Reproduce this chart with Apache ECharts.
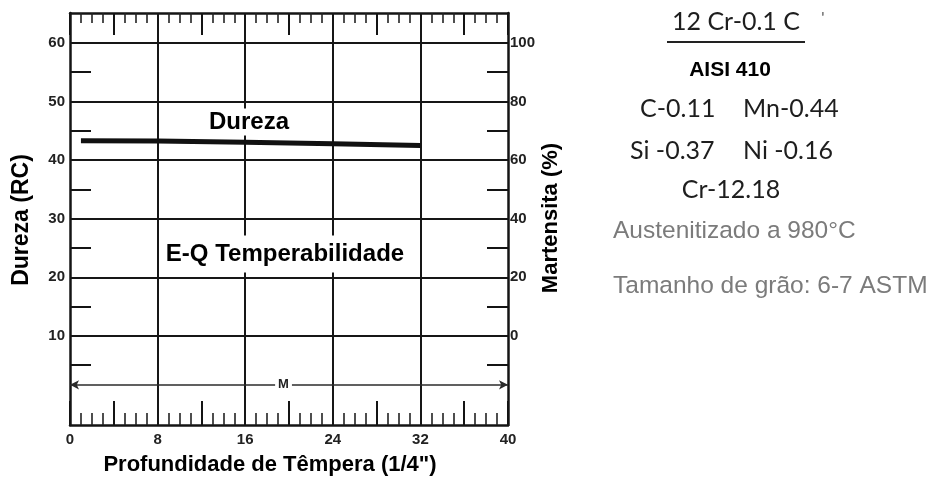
<!DOCTYPE html>
<html>
<head>
<meta charset="utf-8">
<script src="https://cdn.jsdelivr.net/npm/echarts@6/dist/echarts.min.js"></script>
<style>
  html, body { margin: 0; padding: 0; background: #fff; }
  #chart { width: 940px; height: 479px; }
</style>
</head>
<body>
<div id="chart"></div>
<script>
// Jominy curve: hardness (RC) against quench depth (1/4")
const depth = [1, 8, 16, 24, 32];
const hardness = [43.3, 43.25, 43.05, 42.8, 42.5];

// axis ticks and labels
const depthLabels = [0, 8, 16, 24, 32, 40];
const depthGrid = [8, 16, 24, 32];
const hardnessLabels = [10, 20, 30, 40, 50, 60];
const hardnessMinor = [5, 15, 25, 35, 45, 55];
const martensiteLabels = [0, 20, 40, 60, 80, 100];
const martensiteMinor = [-10, 10, 30, 50, 70, 90];

// the "M" reference line near the bottom of the chart
const mLevel = 1.65;
const mLabelAt = 19.5;

// steel description beside the chart
const steelTitle = '12 Cr-0.1 C';
const steelGrade = 'AISI 410';
const compositionRow1 = ['C-0.11', 'Mn-0.44'];
const compositionRow2 = ['Si -0.37', 'Ni -0.16'];
const compositionRow3 = 'Cr-12.18';
const treatment = 'Austenitizado a 980°C';
const grainSize = 'Tamanho de grão: 6-7 ASTM';

const INK = '#141414';
const tickLabel = { fontFamily: 'Liberation Sans', fontWeight: 'bold', fontSize: 15, color: '#222' };
const titleFont = { fontFamily: 'Liberation Sans', fontWeight: 'bold', fontSize: 22, fill: '#000' };
const steelFont = { fontFamily: 'Lato', fontSize: 25, fill: '#1e1e1e' };
const grayFont = { fontFamily: 'Liberation Sans', fontSize: 24.5, fill: '#7b7b7b' };

const chart = echarts.init(document.getElementById('chart'), null, { renderer: 'canvas' });

const depthAxisBase = {
  type: 'value', min: 0, max: 40, interval: 4,
  axisLine: { show: true, onZero: false, lineStyle: { color: INK, width: 2.5 } },
  splitLine: { show: false },
  minorTick: { show: true, splitNumber: 4, lineStyle: { color: '#222', width: 1.6 } },
  axisTick: { show: true, inside: true, lineStyle: { color: INK, width: 2 } }
};

chart.setOption({
  animation: false,
  backgroundColor: '#fff',
  grid: { left: 70, right: 432, top: 13, bottom: 54, containLabel: false },
  xAxis: [
    Object.assign({}, depthAxisBase, {
      position: 'bottom',
      axisTick: Object.assign({}, depthAxisBase.axisTick, { length: 24 }),
      minorTick: Object.assign({}, depthAxisBase.minorTick, { length: 12 }),
      axisLabel: Object.assign({}, tickLabel, {
        margin: 7, showMinLabel: true, showMaxLabel: true,
        formatter: v => (depthLabels.indexOf(v) >= 0 ? String(v) : '')
      })
    }),
    Object.assign({}, depthAxisBase, {
      position: 'top',
      axisTick: Object.assign({}, depthAxisBase.axisTick, { length: 22 }),
      minorTick: Object.assign({}, depthAxisBase.minorTick, { length: 10 }),
      axisLabel: { show: false }
    })
  ],
  yAxis: [
    {
      type: 'value', position: 'left', min: -5.2, max: 65.1,
      axisLine: { show: true, onZero: false, lineStyle: { color: INK, width: 2.5 } },
      splitLine: { show: false },
      axisTick: { show: true, inside: true, length: 21, customValues: hardnessMinor, lineStyle: { color: INK, width: 2 } },
      axisLabel: Object.assign({}, tickLabel, { margin: 5, customValues: hardnessLabels })
    },
    {
      type: 'value', position: 'right', min: -30.4, max: 110.2,
      axisLine: { show: true, onZero: false, lineStyle: { color: INK, width: 2.5 } },
      splitLine: { show: false },
      axisTick: { show: true, inside: true, length: 21, customValues: martensiteMinor, lineStyle: { color: INK, width: 2 } },
      axisLabel: Object.assign({}, tickLabel, { margin: 2, customValues: martensiteLabels })
    }
  ],
  series: [
    {
      name: 'grade',
      type: 'line',
      data: [],
      z: 1,
      markLine: {
        silent: true,
        symbol: ['none', 'none'],
        label: { show: false },
        lineStyle: { color: '#161616', width: 2, type: 'solid' },
        data: hardnessLabels.map(v => ({ yAxis: v }))
          .concat(depthGrid.map(v => ({ xAxis: v })))
      }
    },
    {
      name: 'M',
      type: 'line',
      data: [],
      z: 2,
      markLine: {
        silent: true,
        symbol: ['arrow', 'arrow'],
        symbolSize: [7, 9],
        label: { show: false },
        lineStyle: { color: '#2b2b2b', width: 1.5, type: 'solid' },
        data: [[{ coord: [0, mLevel] }, { coord: [40, mLevel] }]]
      },
      markPoint: {
        silent: true,
        symbol: 'circle',
        symbolSize: 0,
        label: {
          show: true, position: 'inside', formatter: 'M',
          fontFamily: 'Liberation Sans', fontWeight: 'bold', fontSize: 13, color: '#222',
          backgroundColor: '#fff', padding: [1, 3]
        },
        data: [{ coord: [mLabelAt, mLevel] }]
      }
    },
    {
      name: 'Dureza',
      type: 'line',
      data: depth.map((d, i) => [d, hardness[i]]),
      symbol: 'none',
      z: 5,
      lineStyle: { color: '#111', width: 5 }
    }
  ],
  graphic: [
    // labels inside the plot, on white so the grid stops behind them
    { type: 'text', x: 249, y: 122, z: 100,
      style: { text: 'Dureza', fontFamily: 'Liberation Sans', fontWeight: 'bold', fontSize: 24, fill: '#000',
        align: 'center', verticalAlign: 'middle', backgroundColor: '#fff', padding: [3, 2, 0, 2] } },
    { type: 'text', x: 285, y: 254, z: 100,
      style: { text: 'E-Q Temperabilidade', fontFamily: 'Liberation Sans', fontWeight: 'bold', fontSize: 24, fill: '#000',
        align: 'center', verticalAlign: 'middle', backgroundColor: '#fff', padding: [10, 1, 3, 1] } },

    // axis titles
    { type: 'text', x: 22, y: 220, rotation: Math.PI / 2, z: 100,
      style: Object.assign({ text: 'Dureza (RC)', align: 'center', verticalAlign: 'middle' }, titleFont, { fontSize: 23 }) },
    { type: 'text', x: 551, y: 218, rotation: Math.PI / 2, z: 100,
      style: Object.assign({ text: 'Martensita (%)', align: 'center', verticalAlign: 'middle' }, titleFont) },
    { type: 'text', x: 270, y: 465, z: 100,
      style: Object.assign({ text: 'Profundidade de Têmpera (1/4")', align: 'center', verticalAlign: 'middle' }, titleFont) },

    // steel description
    { type: 'text', x: 736, y: 22, z: 100,
      style: Object.assign({ text: steelTitle, align: 'center', verticalAlign: 'middle' }, steelFont) },
    { type: 'text', x: 823, y: 18, z: 100,
      style: { text: "'", fontFamily: 'Lato', fontSize: 16, fill: '#555', align: 'center', verticalAlign: 'middle' } },
    { type: 'line', z: 100, shape: { x1: 667, y1: 42, x2: 805, y2: 42 }, style: { stroke: '#222', lineWidth: 2 } },
    { type: 'text', x: 730, y: 70, z: 100,
      style: { text: steelGrade, fontFamily: 'Liberation Sans', fontWeight: 'bold', fontSize: 21, fill: '#000',
        align: 'center', verticalAlign: 'middle' } },
    { type: 'text', x: 640, y: 109, z: 100,
      style: Object.assign({ text: compositionRow1[0], align: 'left', verticalAlign: 'middle' }, steelFont) },
    { type: 'text', x: 743, y: 109, z: 100,
      style: Object.assign({ text: compositionRow1[1], align: 'left', verticalAlign: 'middle' }, steelFont) },
    { type: 'text', x: 630, y: 151, z: 100,
      style: Object.assign({ text: compositionRow2[0], align: 'left', verticalAlign: 'middle' }, steelFont) },
    { type: 'text', x: 743, y: 151, z: 100,
      style: Object.assign({ text: compositionRow2[1], align: 'left', verticalAlign: 'middle' }, steelFont) },
    { type: 'text', x: 731, y: 190, z: 100,
      style: Object.assign({ text: compositionRow3, align: 'center', verticalAlign: 'middle' }, steelFont) },
    { type: 'text', x: 613, y: 231, z: 100,
      style: Object.assign({ text: treatment, align: 'left', verticalAlign: 'middle' }, grayFont) },
    { type: 'text', x: 613, y: 286, z: 100,
      style: Object.assign({ text: grainSize, align: 'left', verticalAlign: 'middle' }, grayFont) }
  ]
});
</script>
</body>
</html>
